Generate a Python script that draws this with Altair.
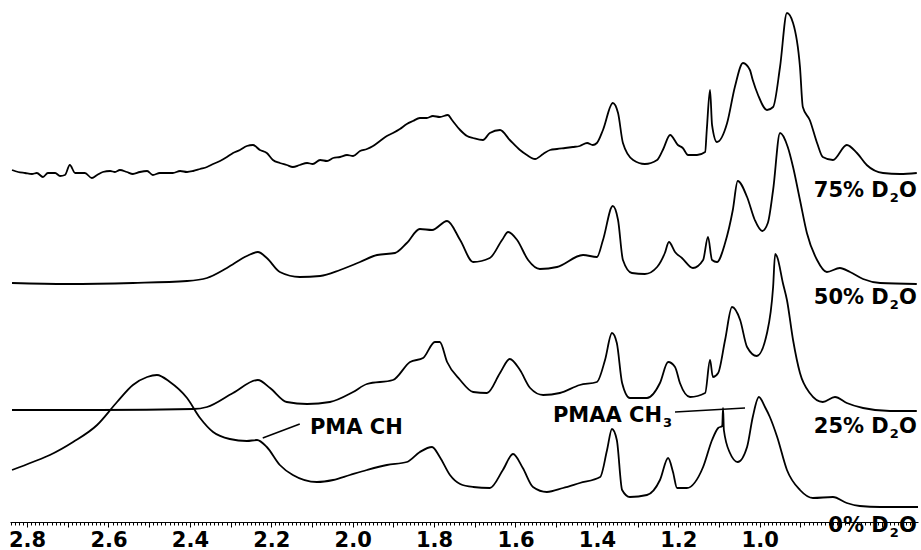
import altair as alt
import pandas as pd

# ---- spectra: chemical shift (ppm) and stacked intensity (arbitrary units) ----
PPM_75 = [2.837, 2.822, 2.805, 2.788, 2.776, 2.761, 2.749, 2.731, 2.719, 2.707, 2.695, 2.682,
          2.670, 2.658, 2.641, 2.628, 2.614, 2.596, 2.584, 2.572, 2.555, 2.540, 2.523, 2.505,
          2.491, 2.474, 2.456, 2.442, 2.424, 2.407, 2.392, 2.375, 2.358, 2.343, 2.326, 2.309,
          2.294, 2.277, 2.260, 2.245, 2.228, 2.211, 2.196, 2.179, 2.162, 2.147, 2.130,
          2.112, 2.098, 2.080, 2.063, 2.048, 2.031, 2.014, 1.999, 1.982, 1.965, 1.950, 1.933,
          1.916, 1.901, 1.884, 1.867, 1.852, 1.835, 1.818, 1.803, 1.786, 1.766, 1.756, 1.736,
          1.719, 1.704, 1.680, 1.663, 1.638, 1.614, 1.589, 1.572, 1.552, 1.532, 1.515, 1.498,
          1.478, 1.459, 1.442, 1.424, 1.410, 1.400, 1.385,
          1.361, 1.348, 1.336, 1.311, 1.282, 1.252, 1.238, 1.220, 1.201, 1.189, 1.176, 1.154,
          1.134, 1.130, 1.122, 1.117, 1.105, 1.080, 1.061, 1.041, 1.024, 1.017, 1.004, 0.982,
          0.967, 0.950, 0.933, 0.918, 0.901, 0.894, 0.877, 0.859, 0.845, 0.820, 0.786, 0.761,
          0.737, 0.697, 0.655, 0.614]
INT_75 = [350, 348, 347, 346, 347, 343, 347, 347, 344, 345, 355, 347,
          347, 347, 342, 345, 348, 349, 348, 350, 348, 346, 348, 349,
          345, 347, 347, 347, 349, 348, 349, 351, 353, 356, 359, 363,
          367, 370, 374, 375, 370, 367, 360, 357, 355, 353, 355,
          357, 356, 360, 359, 362, 363, 365, 364, 369, 371, 374, 379,
          384, 387, 391, 396, 399, 402, 402, 404, 403, 405, 400, 390,
          384, 382, 380, 387, 390, 380, 370, 365, 361, 366, 370, 371,
          372, 373, 374, 377, 375, 377, 390,
          417, 407, 377, 360, 356, 360, 370, 385, 375, 372, 365, 365,
          368, 390, 430, 395, 378, 397, 433, 457, 450, 440, 425, 410,
          413, 453, 507, 497, 453, 413, 400, 377, 363, 360, 375, 367,
          355, 347, 346, 347]

PPM_50 = [2.837, 2.702, 2.540, 2.407, 2.358, 2.309, 2.260, 2.233, 2.211, 2.179, 2.130, 2.080,
          2.031, 1.982, 1.940, 1.896, 1.867, 1.835, 1.805, 1.768, 1.736, 1.704, 1.663, 1.633,
          1.618, 1.596, 1.569, 1.540, 1.498, 1.434, 1.400, 1.385, 1.361, 1.348, 1.336, 1.314,
          1.282, 1.252, 1.233, 1.223, 1.208, 1.191, 1.164, 1.139, 1.127, 1.117, 1.105, 1.085,
          1.066, 1.054, 1.031, 1.012, 0.994, 0.980, 0.967, 0.950, 0.931, 0.918, 0.901, 0.884,
          0.859, 0.835, 0.803, 0.778, 0.746, 0.704, 0.614]
INT_50 = [237, 236, 237, 239, 242, 252, 264, 268, 262, 248, 243, 244,
          250, 258, 265, 267, 277, 291, 290, 299, 280, 258, 262, 280,
          288, 280, 260, 251, 253, 265, 263, 280, 314, 300, 260, 247,
          246, 253, 267, 278, 268, 262, 252, 260, 283, 260, 258, 277,
          310, 339, 323, 300, 289, 297, 330, 387, 373, 353, 320, 287,
          260, 248, 252, 248, 241, 237, 236]

PPM_25 = [2.837, 2.621, 2.392, 2.358, 2.294, 2.233, 2.203, 2.162, 2.112, 2.056, 1.999, 1.965,
          1.901, 1.859, 1.827, 1.798, 1.786, 1.768, 1.736, 1.704, 1.670, 1.638, 1.614, 1.589,
          1.564, 1.532, 1.491, 1.442, 1.400, 1.380, 1.363, 1.351, 1.338, 1.319, 1.277, 1.245,
          1.225, 1.208, 1.196, 1.171, 1.134, 1.122, 1.115, 1.102, 1.085, 1.068, 1.048, 1.031,
          1.007, 0.982, 0.967, 0.962, 0.957, 0.943, 0.933, 0.918, 0.901, 0.877, 0.845, 0.815,
          0.786, 0.746, 0.680, 0.614]
INT_25 = [110, 110, 111, 113, 127, 140, 132, 118, 116, 118, 128, 136,
          140, 158, 162, 178, 178, 158, 140, 128, 127, 147, 161, 150,
          132, 125, 127, 135, 138, 160, 187, 177, 137, 122, 122, 137,
          158, 153, 137, 123, 127, 160, 143, 147, 180, 213, 200, 173,
          164, 187, 233, 266, 263, 237, 220, 180, 147, 127, 118, 123,
          117, 112, 109, 109]

PPM_0 = [2.837, 2.786, 2.744, 2.687, 2.628, 2.579, 2.540, 2.505, 2.481, 2.449, 2.407, 2.375,
         2.343, 2.302, 2.260, 2.235, 2.211, 2.179, 2.147, 2.088, 2.048, 2.007, 1.965, 1.916,
         1.867, 1.835, 1.805, 1.786, 1.761, 1.736, 1.704, 1.663, 1.631, 1.606, 1.582, 1.557,
         1.523, 1.483, 1.442, 1.392, 1.375, 1.363, 1.351, 1.338, 1.319, 1.277, 1.245, 1.225,
         1.213, 1.203, 1.179, 1.139, 1.117, 1.102, 1.092, 1.090, 1.088, 1.073, 1.054, 1.031,
         1.017, 1.002, 0.987, 0.975, 0.957, 0.933, 0.901, 0.869, 0.820, 0.786, 0.754, 0.704,
         0.611]
INT_0 = [50, 58, 65, 78, 95, 118, 135, 143, 145, 138, 122, 102,
         88, 81, 79, 80, 73, 55, 45, 38, 40, 45, 50, 55,
         58, 68, 73, 63, 45, 36, 33, 32, 50, 66, 52, 33,
         28, 32, 37, 43, 70, 91, 80, 30, 23, 25, 40, 62,
         48, 32, 32, 53, 80, 92, 94, 112, 90, 67, 58, 73,
         103, 123, 113, 103, 83, 50, 30, 22, 23, 17, 14, 13,
         13]

SERIES = ["75% D2O", "50% D2O", "25% D2O", "0% D2O"]
PPMS = [PPM_75, PPM_50, PPM_25, PPM_0]
INTS = [INT_75, INT_50, INT_25, INT_0]

# ---- labels (main text, subscript, tail) ----
TRACE_MAIN = ["75% D", "50% D", "25% D", "0% D"]
TRACE_SUB = ["2", "2", "2", "2"]
TRACE_TAIL = ["O", "O", "O", "O"]
TRACE_LABEL_PPM = [0.614, 0.614, 0.614, 0.614]
TRACE_LABEL_INT = [323, 216, 87, -12]

NOTE_MAIN = ["PMA CH", "PMAA CH"]
NOTE_SUB = ["", "3"]
NOTE_PPM = [2.105, 1.508]
NOTE_INT = [86, 98]

POINTER_PPM = [2.221, 1.208]
POINTER_PPM2 = [2.130, 1.036]
POINTER_INT = [82, 108]
POINTER_INT2 = [96, 112]

MAJOR_LABELS = [2.8, 2.6, 2.4, 2.2, 2.0, 1.8, 1.6, 1.4, 1.2, 1.0]
TICK_VALUES = [round(2.84 - 0.01 * i, 2) for i in range(223)]

rows = []
for name, xs, ys in zip(SERIES, PPMS, INTS):
    for i, (x, y) in enumerate(zip(xs, ys)):
        rows.append({"series": name, "ppm": x, "intensity": y, "idx": i})
df = pd.DataFrame(rows)

df_lab = pd.DataFrame({"main": TRACE_MAIN, "sub": TRACE_SUB, "tail": TRACE_TAIL,
                       "ppm": TRACE_LABEL_PPM, "intensity": TRACE_LABEL_INT})
df_note = pd.DataFrame({"main": NOTE_MAIN, "sub": NOTE_SUB, "ppm": NOTE_PPM, "intensity": NOTE_INT})
df_ptr = pd.DataFrame({"ppm": POINTER_PPM, "ppm2": POINTER_PPM2,
                       "intensity": POINTER_INT, "intensity2": POINTER_INT2})

FONT = "DejaVu Sans"
FS = 21
SUB_FS = 13
major_list = "[" + ",".join(str(int(round(v * 10))) for v in MAJOR_LABELS) + "]"
label_expr = (
    f"(abs(datum.value*10 - round(datum.value*10)) < 0.001 && "
    f"indexof({major_list}, round(datum.value*10)) >= 0) ? format(datum.value, '.1f') : ''"
)

x_scale = alt.Scale(domain=[0.611, 2.842], reverse=True, nice=False, zero=False)
y_scale = alt.Scale(domain=[-2, 520], nice=False, zero=False)

x_axis = alt.Axis(
    values=TICK_VALUES,
    labelExpr=label_expr,
    labelOverlap=False,
    labelFont=FONT,
    labelFontWeight="bold",
    labelFontSize=21,
    labelColor="black",
    labelPadding=2,
    labelFlush=False,
    tickColor="black",
    tickWidth=1,
    tickSize={"condition": {"test": "abs(datum.value*10 - round(datum.value*10)) < 0.001", "value": 5},
              "value": 3},
    domainColor="black",
    domainWidth=1,
    grid=False,
    title=None,
)

X = alt.X("ppm:Q", scale=x_scale, axis=x_axis)
Y = alt.Y("intensity:Q", scale=y_scale, axis=None)

lines = alt.Chart(df).mark_line(color="black", strokeWidth=1.8, interpolate="monotone").encode(
    x=X, y=Y, detail="series:N", order="idx:Q"
)

txt = dict(baseline="alphabetic", font=FONT, fontWeight="bold", color="black")

lab_tail = alt.Chart(df_lab).mark_text(align="right", fontSize=FS, **txt).encode(x=X, y=Y, text="tail:N")
lab_sub = alt.Chart(df_lab).mark_text(align="right", fontSize=SUB_FS, dx=-18, dy=5, **txt).encode(
    x=X, y=Y, text="sub:N")
lab_main = alt.Chart(df_lab).mark_text(align="right", fontSize=FS, dx=-28, **txt).encode(
    x=X, y=Y, text="main:N")

note_main = alt.Chart(df_note).mark_text(align="left", fontSize=FS, **txt).encode(x=X, y=Y, text="main:N")
note_sub = alt.Chart(df_note).mark_text(align="left", fontSize=SUB_FS, dx=110, dy=5, **txt).encode(
    x=X, y=Y, text="sub:N")

pointers = alt.Chart(df_ptr).mark_rule(color="black", strokeWidth=1.5).encode(
    x=X, x2="ppm2:Q", y=Y, y2="intensity2:Q"
)

chart = (
    alt.layer(lines, pointers, lab_tail, lab_sub, lab_main, note_main, note_sub)
    .properties(
        width=908,
        height=522,
        padding={"left": 10, "top": 0, "right": 3, "bottom": 28},
        autosize=alt.AutoSizeParams(type="none"),
        background="white",
    )
    .configure_view(stroke=None)
)

chart.save("out.html", embed_options={"renderer": "svg", "actions": False})
